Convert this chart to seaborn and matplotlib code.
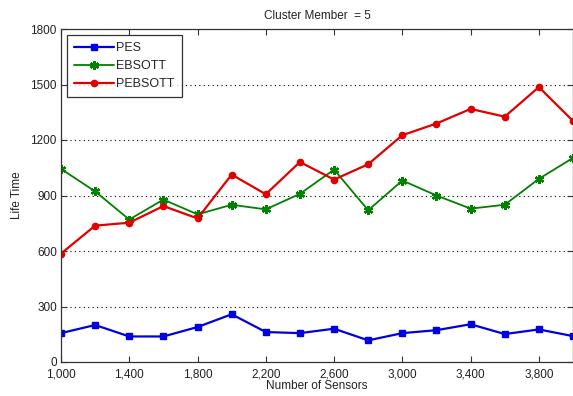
import matplotlib
matplotlib.use("Agg")
import matplotlib.pyplot as plt
import matplotlib.ticker as mticker
import numpy as np
import pandas as pd
import seaborn as sns

# Network size (number of sensors)
sensors = [1000, 1200, 1400, 1600, 1800, 2000, 2200, 2400,
           2600, 2800, 3000, 3200, 3400, 3600, 3800, 4000]

# Network lifetime per protocol
pes = [156, 200, 138, 138, 189, 258, 162, 156,
       180, 117, 156, 172, 204, 151, 176, 140]
ebsott = [1044, 922, 770, 878, 798, 850, 825, 909,
          1040, 820, 981, 900, 829, 850, 990, 1103]
pebsott = [586, 737, 753, 843, 776, 1013, 907, 1081,
           986, 1069, 1226, 1289, 1368, 1326, 1486, 1303]

x_ticks = [1000, 1400, 1800, 2200, 2600, 3000, 3400, 3800]
y_ticks = [0, 300, 600, 900, 1200, 1500, 1800]

df = pd.DataFrame({
    "sensors": sensors * 3,
    "life": pes + ebsott + pebsott,
    "method": ["PES"] * len(sensors) + ["EBSOTT"] * len(sensors) + ["PEBSOTT"] * len(sensors),
})

sns.set_theme(style="white")
plt.rcParams["font.family"] = ["Liberation Sans", "DejaVu Sans"]

fig = plt.figure(figsize=(5.73, 3.96), dpi=100)
ax = fig.add_axes([61 / 573, 1 - 362 / 396, 512 / 573, 333 / 396])

styles = {
    "PES": dict(color="#0000E0", marker="s", markersize=4, linewidth=1.6),
    "EBSOTT": dict(color="#008000", marker=(6, 2, 0), markersize=6.5,
                   markeredgewidth=1.7, linewidth=1.3),
    "PEBSOTT": dict(color="#E00000", marker="o", markersize=4.5, linewidth=1.6),
}

for name in ["PES", "EBSOTT", "PEBSOTT"]:
    st = styles[name]
    sub = df[df["method"] == name]
    sns.lineplot(data=sub, x="sensors", y="life", ax=ax, label=name,
                 color=st["color"], marker=st["marker"],
                 markersize=st["markersize"], linewidth=st["linewidth"],
                 markeredgecolor=st["color"], markerfacecolor=st["color"],
                 markeredgewidth=st.get("markeredgewidth", 1.0))

ax.set_xlim(1000, 4000)
ax.set_ylim(0, 1800)
ax.set_xticks(x_ticks)
ax.set_yticks(y_ticks)
ax.xaxis.set_major_formatter(mticker.FuncFormatter(lambda v, p: f"{int(v):,}"))
ax.yaxis.grid(True, linestyle=(0, (1, 3)), color="black", linewidth=0.8)
ax.xaxis.grid(False)
ax.tick_params(direction="in", length=4, width=0.8, colors="#333333",
               labelcolor="#222222", labelsize=8.5, top=True, right=True,
               bottom=True, left=True)
ax.tick_params(axis="x", pad=4.5)
ax.tick_params(axis="y", pad=3)
for sp in ax.spines.values():
    sp.set_color("#333333")
    sp.set_linewidth(0.9)

ax.set_xlabel("Number of Sensors", fontsize=8.5, color="#222222", labelpad=0)
ax.set_ylabel("Life Time", fontsize=8.5, color="#222222", labelpad=5)
ax.set_title("Cluster Member  = 5", fontsize=8.5, color="#222222", pad=7)

leg = ax.legend(loc="upper left", bbox_to_anchor=(6 / 512, 1 - 6 / 333),
                borderaxespad=0, fontsize=9, frameon=True, fancybox=False,
                edgecolor="black", handlelength=3.2, handletextpad=0.2,
                labelspacing=0.5, borderpad=0.55)
leg.get_frame().set_linewidth(0.9)

fig.savefig("out.png", dpi=100)
